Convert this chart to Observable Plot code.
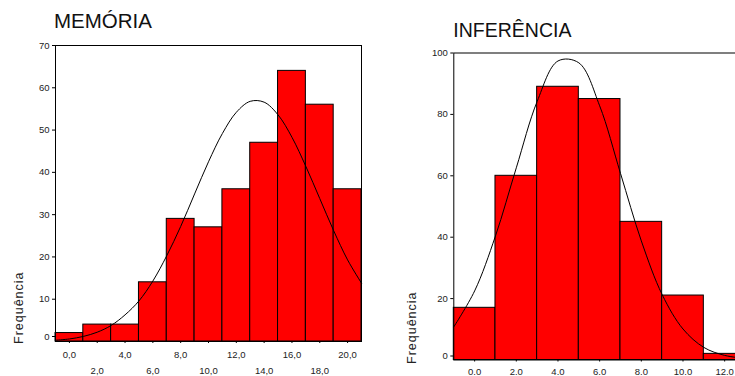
<!DOCTYPE html>
<html>
<head>
<meta charset="utf-8">
<script src="https://cdn.jsdelivr.net/npm/d3@7"></script>
<script src="https://cdn.jsdelivr.net/npm/@observablehq/plot@0.6"></script>
<style>
  html, body { margin: 0; padding: 0; background: #fff; overflow: hidden; }
  #wrap { position: relative; width: 735px; height: 376px; overflow: hidden; }
  #left { position: absolute; left: 0; top: 0; width: 370px; height: 376px; }
  #right { position: absolute; left: 390px; top: 0; width: 366px; height: 376px; }
  #wrap svg { font-family: "Liberation Sans", Arial, sans-serif; max-width: none !important; height: 376px !important; display: block; }
</style>
</head>
<body>
<div id="wrap"><div id="left"></div><div id="right"></div></div>
<script>
// ---- Data ----
const binWidth = 2;

// MEMÓRIA
const memTitle = "MEMÓRIA";
const memCenters = [0, 2, 4, 6, 8, 10, 12, 14, 16, 18, 20];
const memCounts = [2, 4, 4, 14, 29, 27, 36, 47, 64, 56, 36];
const memCurveX = [-1, 0, 1, 2, 3, 4, 5, 6, 7, 8, 9, 10, 11, 12, 13, 14, 15, 16, 17, 18, 19, 20, 21];
const memCurveY = [0.3, 0.6, 1.2, 2.2, 3.8, 6.3, 9.6, 14.3, 20.3, 27.2, 34.9, 42.5, 49.2, 54.2, 56.8, 56.6, 53.6, 48.3, 41.4, 33.8, 26.2, 19.3, 13.8];
const memYTicks = [0, 10, 20, 30, 40, 50, 60, 70];
const memXTicksRow1 = [0, 4, 8, 12, 16, 20];
const memXTicksRow2 = [2, 6, 10, 14, 18];

// INFERÊNCIA
const infTitle = "INFERÊNCIA";
const infCenters = [0, 2, 4, 6, 8, 10, 12];
const infCounts = [17, 60, 89, 85, 45, 21, 2];
const infCurveX = [-1, 0, 1, 2, 3, 4, 5, 6, 7, 8, 9, 10, 11, 12, 13];
const infCurveY = [10.8, 22.5, 40.4, 62.6, 84.2, 97.4, 96.8, 82.8, 60.8, 38.8, 21.3, 10.1, 4.1, 1.5, 0.5];
const infYTicks = [0, 20, 40, 60, 80, 100];
const infXTicks = [0, 2, 4, 6, 8, 10, 12];

const yLabel = "Frequência";
const barFill = "#ff0000";

function bins(centers, counts) {
  return centers.map((c, i) => ({x1: c - binWidth / 2, x2: c + binWidth / 2, y: counts[i]}));
}

// ---- Left chart ----
const commaFmt = d => d.toFixed(1).replace(".", ",");
const left = Plot.plot({
  width: 370, height: 376,
  marginLeft: 55, marginRight: 9, marginTop: 45, marginBottom: 35,
  style: {fontFamily: "Liberation Sans, Arial, sans-serif", fontSize: "9.5px", color: "#222", background: "transparent"},
  x: {domain: [-1, 21], label: null},
  y: {domain: [0, 70], label: null},
  marks: [
    Plot.rectY(bins(memCenters, memCounts), {x1: "x1", x2: "x2", y: "y", fill: barFill, stroke: "#000", strokeWidth: 1}),
    Plot.line(memCurveX.map((x, i) => ({x, y: memCurveY[i]})), {x: "x", y: "y", curve: "catmull-rom", stroke: "#000", strokeWidth: 1}),
    Plot.frame({stroke: "#000", strokeWidth: 1}),
    Plot.axisY(memYTicks.filter(t => t > 0), {tickSize: 3, tickPadding: 3, stroke: "#000"}),
    Plot.axisY([0], {tickSize: 3, tickPadding: 3, dy: -5, stroke: "#000"}),
    Plot.axisX(memXTicksRow1, {tickSize: 2, tickPadding: 7.5, tickFormat: commaFmt, stroke: "#000"}),
    Plot.axisX(memXTicksRow2, {tickSize: 2, tickPadding: 23.5, tickFormat: commaFmt, stroke: "#000"})
  ]
});
document.getElementById("left").appendChild(left);
d3.select(left).append("text")
  .attr("x", 54).attr("y", 28.3).attr("text-anchor", "start")
  .attr("font-size", "20.5px").attr("fill", "#111")
  .text(memTitle);
d3.select(left).append("text")
  .attr("transform", "translate(23,344) rotate(-90)").attr("text-anchor", "start")
  .attr("font-size", "12.5px").attr("letter-spacing", "1px").attr("fill", "#222")
  .text(yLabel);

// ---- Right chart ----
const dotFmt = d => d.toFixed(1);
const right = Plot.plot({
  width: 366, height: 376,
  marginLeft: 63.3, marginRight: 11, marginTop: 52.5, marginBottom: 16.5,
  style: {fontFamily: "Liberation Sans, Arial, sans-serif", fontSize: "9.5px", color: "#222", background: "transparent"},
  x: {domain: [-1, 13], label: null},
  y: {domain: [0, 100], label: null},
  marks: [
    Plot.rectY(bins(infCenters, infCounts), {x1: "x1", x2: "x2", y: "y", fill: barFill, stroke: "#000", strokeWidth: 1}),
    Plot.line(infCurveX.map((x, i) => ({x, y: infCurveY[i]})), {x: "x", y: "y", curve: "catmull-rom", stroke: "#000", strokeWidth: 1}),
    Plot.frame({stroke: "#000", strokeWidth: 1}),
    Plot.axisY(infYTicks.filter(t => t > 0), {tickSize: 3, tickPadding: 3, stroke: "#000"}),
    Plot.axisY([0], {tickSize: 3, tickPadding: 3, dy: -4, stroke: "#000"}),
    Plot.axisX(infXTicks, {tickSize: 2, tickPadding: 5.8, tickFormat: dotFmt, stroke: "#000"})
  ]
});
document.getElementById("right").appendChild(right);
d3.select(right).append("text")
  .attr("x", 63.3).attr("y", 36.7).attr("text-anchor", "start")
  .attr("font-size", "19.5px").attr("fill", "#111")
  .text(infTitle);
d3.select(right).append("text")
  .attr("transform", "translate(25.7,364) rotate(-90)").attr("text-anchor", "start")
  .attr("font-size", "12.5px").attr("letter-spacing", "1px").attr("fill", "#222")
  .text(yLabel);
</script>
</body>
</html>
